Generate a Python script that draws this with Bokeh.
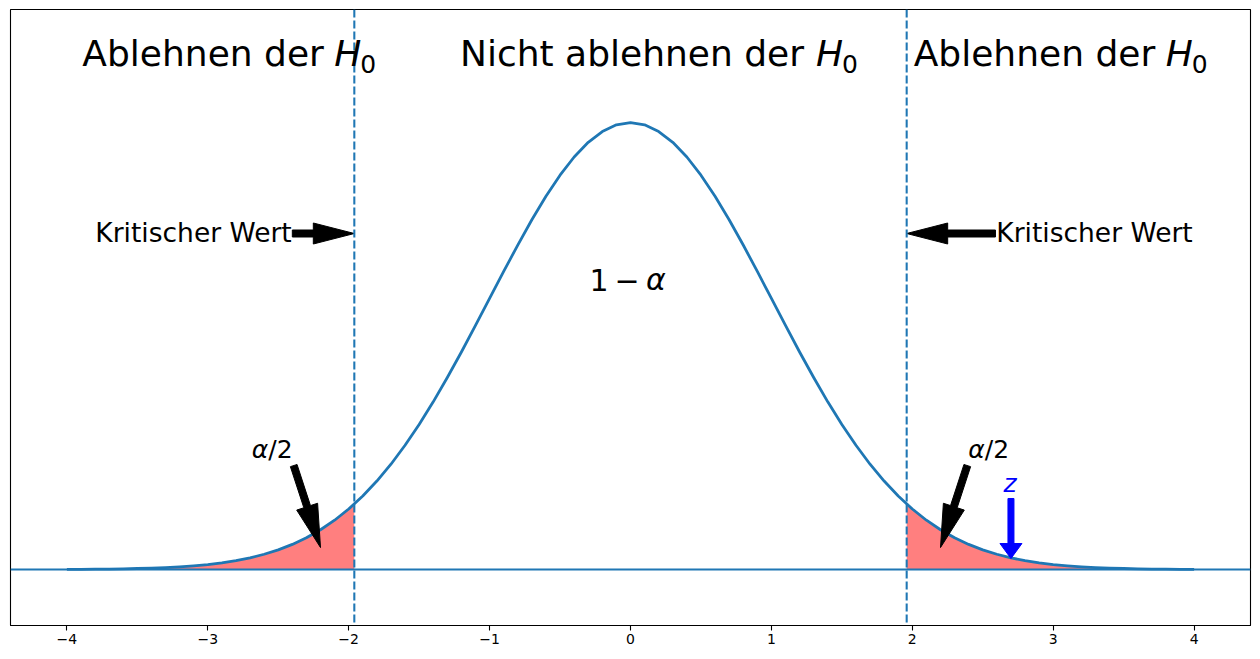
import math
from bokeh.plotting import figure
from bokeh.models import Range1d, Span, Label, FixedTicker, ColumnDataSource
from bokeh.embed import file_html
from bokeh.resources import INLINE

# ---------------- data ----------------
x_vals = [-4.0, -3.9, -3.8, -3.7, -3.6, -3.5, -3.4, -3.3, -3.2, -3.1,
          -3.0, -2.9, -2.8, -2.7, -2.6, -2.5, -2.4, -2.3, -2.2, -2.1,
          -2.0, -1.9, -1.8, -1.7, -1.6, -1.5, -1.4, -1.3, -1.2, -1.1,
          -1.0, -0.9, -0.8, -0.7, -0.6, -0.5, -0.4, -0.3, -0.2, -0.1,
          0.0, 0.1, 0.2, 0.3, 0.4, 0.5, 0.6, 0.7, 0.8, 0.9,
          1.0, 1.1, 1.2, 1.3, 1.4, 1.5, 1.6, 1.7, 1.8, 1.9,
          2.0, 2.1, 2.2, 2.3, 2.4, 2.5, 2.6, 2.7, 2.8, 2.9,
          3.0, 3.1, 3.2, 3.3, 3.4, 3.5, 3.6, 3.7, 3.8, 3.9, 4.0]
density = [0.0001, 0.0002, 0.0003, 0.0004, 0.0006, 0.0009, 0.0012, 0.0017, 0.0024, 0.0033,
           0.0044, 0.0060, 0.0079, 0.0104, 0.0136, 0.0175, 0.0224, 0.0283, 0.0355, 0.0440,
           0.0540, 0.0656, 0.0790, 0.0940, 0.1109, 0.1295, 0.1497, 0.1714, 0.1942, 0.2179,
           0.2420, 0.2661, 0.2897, 0.3123, 0.3332, 0.3521, 0.3683, 0.3814, 0.3910, 0.3970,
           0.3989, 0.3970, 0.3910, 0.3814, 0.3683, 0.3521, 0.3332, 0.3123, 0.2897, 0.2661,
           0.2420, 0.2179, 0.1942, 0.1714, 0.1497, 0.1295, 0.1109, 0.0940, 0.0790, 0.0656,
           0.0540, 0.0440, 0.0355, 0.0283, 0.0224, 0.0175, 0.0136, 0.0104, 0.0079, 0.0060,
           0.0044, 0.0033, 0.0024, 0.0017, 0.0012, 0.0009, 0.0006, 0.0004, 0.0003, 0.0002, 0.0001]
crit_value = 1.96
crit_density = 0.0584
z_value = 2.7
z_density = 0.0104

tick_values = [-4, -3, -2, -1, 0, 1, 2, 3, 4]
tick_labels = ["\u22124", "\u22123", "\u22122", "\u22121", "0", "1", "2", "3", "4"]

# ---------------- layout ----------------
X0, X1 = -4.4, 4.4
Y0, Y1 = -0.05, 0.5
W, H = 1256, 655
BL, BR, BT, BB = 10, 6, 9, 30
FW = W - BL - BR
FH = H - BT - BB
SX = FW / (X1 - X0)
SY = FH / (Y1 - Y0)

BLUE = "#1f77b4"
FONT = "DejaVu Sans"
BASE_SHIFT = 0.37  # fraction of font size to lift text to its alphabetic baseline

p = figure(width=W, height=H, x_range=Range1d(X0, X1), y_range=Range1d(Y0, Y1),
           output_backend="svg", toolbar_location=None, y_axis_location=None,
           min_border_left=BL, min_border_right=BR, min_border_top=BT, min_border_bottom=BB)
p.xgrid.visible = False
p.ygrid.visible = False
p.outline_line_color = "black"
p.outline_line_width = 1.1
p.background_fill_color = "white"
p.border_fill_color = "white"

ax = p.xaxis[0]
ax.ticker = FixedTicker(ticks=tick_values)
ax.major_label_overrides = {v: s for v, s in zip(tick_values, tick_labels)}
ax.major_tick_out = 5
ax.major_tick_in = 0
ax.minor_tick_line_color = None
ax.major_tick_line_width = 1.1
ax.axis_line_width = 1.1
ax.axis_line_color = "black"
ax.major_label_text_font = FONT
ax.major_label_text_font_size = "14px"
ax.major_label_text_color = "black"
ax.major_label_standoff = 3

# tails
left_x = [x for x in x_vals if x <= -crit_value] + [-crit_value]
left_y = [d for x, d in zip(x_vals, density) if x <= -crit_value] + [crit_density]
right_x = [crit_value] + [x for x in x_vals if x >= crit_value]
right_y = [crit_density] + [d for x, d in zip(x_vals, density) if x >= crit_value]
for tx, ty in ((left_x, left_y), (right_x, right_y)):
    src = ColumnDataSource(dict(x=tx, y1=[0] * len(tx), y2=ty))
    p.varea(x="x", y1="y1", y2="y2", source=src, fill_color="red", fill_alpha=0.5)

# curve
p.line(x_vals, density, line_color=BLUE, line_width=2.78, line_join="round")

p.add_layout(Span(location=0, dimension="width", line_color=BLUE, line_width=2.08))
for loc in (-crit_value, crit_value):
    p.add_layout(Span(location=loc, dimension="height", line_color=BLUE,
                      line_width=2.08, line_dash="8 3"))


def arrow(x0, y0, x1, y1, shaft, head_w, head_l, color):
    dx = (x1 - x0) * SX
    dy = (y1 - y0) * SY
    L = math.hypot(dx, dy)
    ux, uy = dx / L, dy / L
    nx, ny = -uy, ux
    b = L - head_l
    pts = [(nx * shaft / 2, ny * shaft / 2),
           (ux * b + nx * shaft / 2, uy * b + ny * shaft / 2),
           (ux * b + nx * head_w / 2, uy * b + ny * head_w / 2),
           (dx, dy),
           (ux * b - nx * head_w / 2, uy * b - ny * head_w / 2),
           (ux * b - nx * shaft / 2, uy * b - ny * shaft / 2),
           (-nx * shaft / 2, -ny * shaft / 2)]
    xs = [x0 + px / SX for px, _ in pts]
    ys = [y0 + py / SY for _, py in pts]
    p.patch(xs, ys, fill_color=color, line_color=color, line_width=1)


arrow_y = 0.3
arrow(-2.40, arrow_y, -crit_value, arrow_y, 7, 21, 41, "black")
arrow(2.59, arrow_y, crit_value, arrow_y, 7, 21, 41, "black")
arrow(-2.39, 0.0928, -2.2, 0.0196, 7, 22, 43, "black")
arrow(2.39, 0.0928, 2.2, 0.0196, 7, 22, 43, "black")
arrow(z_value, 0.0634, z_value, z_density - 0.0006, 6, 22, 15, "blue")


def label(x, y, text, size, xo=0, yo=0, align="left", style="normal", color="black"):
    px = float(size.replace("px", ""))
    p.add_layout(Label(x=x, y=y, text=text, x_offset=xo, y_offset=yo + BASE_SHIFT * px,
                       text_font=FONT, text_font_size=size, text_font_style=style,
                       text_color=color, text_align=align, text_baseline="alphabetic"))


# titles
title_y = 0.449
for tx, txt, w in ((-3.89, "Ablehnen der ", 252), (-1.21, "Nicht ablehnen der ", 356),
                   (2.01, "Ablehnen der ", 252)):
    label(tx, title_y, txt, "36px")
    label(tx, title_y, "H", "36px", xo=w, style="italic")
    label(tx, title_y, "0", "25px", xo=w + 26, yo=-7)

# Kritischer Wert
kw_y = 0.2918
label(-2.404, kw_y, "Kritischer Wert", "26.5px", align="right")
label(2.596, kw_y, "Kritischer Wert", "26.5px", align="left")

# 1 - alpha
la_y = 0.249
label(0, la_y, "1", "30px", xo=-41)
label(0, la_y, "\u2212", "30px", xo=-16)
label(0, la_y, "\u03b1", "30px", xo=15.5, style="italic")

# alpha/2
a2_y = 0.0991
for ax_x in (-2.688, 2.397):
    label(ax_x, a2_y, "\u03b1", "25px", style="italic")
    label(ax_x, a2_y, "/2", "25px", xo=16.5)

# z
label(z_value, 0.0687, "z", "25px", xo=-1, align="center", style="italic", color="blue")

open("out.html", "w").write(file_html(p, INLINE))
